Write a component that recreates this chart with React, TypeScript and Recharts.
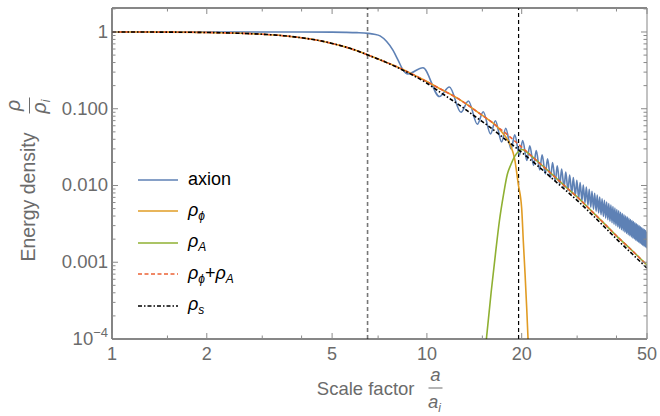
import React from 'react';
import { LineChart, Line, XAxis, YAxis, ReferenceLine, Legend } from 'recharts';

// smooth curves sampled on a common grid of a/a_i
const A_GRID = [1, 1.5, 2, 2.5, 3, 3.5, 4, 4.5, 5, 5.5, 6, 6.5, 7, 7.5, 8, 9, 10, 11, 12, 13, 14, 15, 16, 17, 18, 19, 20, 21, 22, 24, 26, 28, 30, 33, 36, 40, 45, 50];
const RHO_S = [1.0, 0.996, 0.985, 0.965, 0.935, 0.895, 0.84, 0.78, 0.71, 0.64, 0.57, 0.5, 0.445, 0.395, 0.35, 0.275, 0.215, 0.165, 0.13, 0.104, 0.083, 0.068, 0.056, 0.046, 0.038, 0.032, 0.027, 0.0228, 0.0195, 0.0143, 0.0107, 0.0082, 0.0064, 0.0044, 0.0031, 0.00201, 0.00127, 0.00084];
const RHO_SUM = [1.0, 0.996, 0.985, 0.965, 0.935, 0.895, 0.84, 0.78, 0.71, 0.64, 0.57, 0.5, 0.445, 0.396, 0.354, 0.282, 0.226, 0.182, 0.151, 0.124, 0.1, 0.082, 0.068, 0.0555, 0.046, 0.038, 0.0316, 0.0263, 0.0222, 0.0162, 0.012, 0.0091, 0.0071, 0.00484, 0.00341, 0.00221, 0.0014, 0.00092];

const A_PHI = [1, 1.5, 2, 2.5, 3, 3.5, 4, 4.5, 5, 5.5, 6, 6.5, 7, 7.5, 8, 9, 10, 11, 12, 13, 14, 15, 16, 16.5, 17, 17.5, 18, 18.5, 19, 19.5, 20, 20.25, 20.5, 20.75, 21];
const RHO_PHI = [1.0, 0.996, 0.985, 0.965, 0.935, 0.895, 0.84, 0.78, 0.71, 0.64, 0.57, 0.5, 0.445, 0.396, 0.354, 0.282, 0.226, 0.182, 0.151, 0.124, 0.1, 0.082, 0.068, 0.0615, 0.054, 0.047, 0.04, 0.032, 0.022, 0.0105, 0.005, 0.0018, 0.0007, 0.00025, 0.00008];

const A_GAUGE = [15.3, 15.45, 16, 16.5, 17, 17.5, 18, 18.5, 19, 19.5, 20, 20.5, 21, 22, 24, 26, 28, 30, 33, 36, 40, 45, 50];
const RHO_GAUGE = [0.00007, 0.0001, 0.00041, 0.00126, 0.0035, 0.0075, 0.0139, 0.0189, 0.024, 0.0275, 0.0295, 0.0284, 0.0263, 0.0222, 0.0162, 0.012, 0.0091, 0.0071, 0.00484, 0.00341, 0.00221, 0.0014, 0.00092];

// axion: plateau, drop, then peaks / troughs of the oscillation
const A_AXION = [1, 2, 3, 4, 5, 5.5, 6, 6.5, 6.8, 7.1, 7.45, 7.8, 8.1, 8.4, 8.7,
  9.716, 10.964, 11.786, 12.834, 13.543, 14.464, 15.096, 15.928, 16.505, 17.269, 17.802, 18.512, 19.011, 19.677, 20.147,
  20.777, 21.223, 21.822, 22.246, 22.819, 23.225, 23.774, 24.164, 24.692, 25.068, 25.577, 25.94, 26.433, 26.784,
  27.262, 27.603, 28.066, 28.397, 28.848, 29.17, 29.609, 29.923, 30.351, 30.658, 31.076, 31.375, 31.784, 32.077,
  32.476, 32.763, 33.154, 33.435, 33.819, 34.094, 34.47, 34.741, 35.11, 35.375, 35.738, 35.999, 36.355, 36.612,
  36.962, 37.214, 37.559, 37.808, 38.147, 38.391, 38.726, 38.967, 39.296, 39.533, 39.859, 40.092, 40.413, 40.644,
  40.96, 41.187, 41.5, 41.724, 42.032, 42.254, 42.558, 42.777, 43.078, 43.294, 43.591, 43.805, 44.099, 44.31,
  44.6, 44.81, 45.097, 45.303, 45.587, 45.792, 46.073, 46.275, 46.553, 46.754, 47.029, 47.227, 47.5, 47.696,
  47.966, 48.16, 48.427, 48.62, 48.885, 49.076, 49.338, 49.527, 49.787, 50];
const RHO_AXION = [1, 1, 1, 0.999, 0.995, 0.99, 0.98, 0.96, 0.935, 0.89, 0.75, 0.58, 0.43, 0.32, 0.285,
  0.342, 0.1442, 0.1918, 0.0899, 0.1264, 0.0628, 0.0913, 0.047, 0.0698, 0.0369, 0.0557, 0.02995, 0.0457, 0.02494, 0.0384,
  0.02118, 0.03285, 0.01828, 0.02852, 0.01599, 0.02506, 0.01414, 0.02226, 0.01262, 0.01993, 0.01136, 0.01799, 0.01029, 0.01634,
  0.00938, 0.01493, 0.00859, 0.01371, 0.00791, 0.01265, 0.00732, 0.01172, 0.0068, 0.0109, 0.00633, 0.01017, 0.00592, 0.00951,
  0.00555, 0.00893, 0.00521, 0.0084, 0.00491, 0.00792, 0.00464, 0.00749, 0.00439, 0.00709, 0.00416, 0.00673, 0.00395, 0.0064,
  0.00376, 0.00609, 0.00359, 0.00581, 0.00342, 0.00555, 0.00327, 0.00531, 0.00313, 0.00508, 0.003, 0.00487, 0.00288, 0.00468,
  0.00276, 0.00449, 0.00266, 0.00432, 0.00256, 0.00416, 0.00246, 0.00401, 0.00238, 0.00387, 0.00229, 0.00374, 0.00222, 0.00361,
  0.00214, 0.00349, 0.00207, 0.00338, 0.00201, 0.00327, 0.00194, 0.00317, 0.00188, 0.00307, 0.00183, 0.00298, 0.00177, 0.00289,
  0.00172, 0.00281, 0.00167, 0.00273, 0.00163, 0.00266, 0.00158, 0.00258, 0.00154, 0.0025];

const A_MARKS = [6.48, 19.55];

const X_MAJOR = [1, 2, 5, 10, 20, 50];
const X_MINOR = [1.5, 3, 4, 7, 15, 30, 40];
const Y_MAJOR = [0.0001, 0.001, 0.01, 0.1, 1];
const Y_MAJOR_LABELS = ['', '0.001', '0.010', '0.100', '1'];
const Y_MINOR = [0.0002, 0.0003, 0.0004, 0.0005, 0.0006, 0.0007, 0.0008, 0.0009,
  0.002, 0.003, 0.004, 0.005, 0.006, 0.007, 0.008, 0.009,
  0.02, 0.03, 0.04, 0.05, 0.06, 0.07, 0.08, 0.09,
  0.2, 0.3, 0.4, 0.5, 0.6, 0.7, 0.8, 0.9, 2];

const X_TICKS = [...X_MAJOR, ...X_MINOR].sort((p, q) => p - q);
const Y_TICKS = [...Y_MAJOR, ...Y_MINOR].sort((p, q) => p - q);

const zip = (xs: number[], ys: number[]) => xs.map((a, i) => ({ a, v: ys[i] }));

const FONT = '"Liberation Sans", Arial, sans-serif';
const TEXT = '#6b6b6b';
const TICK = '#8a8a8a';

const XTickBottom = ({ x, y, payload }: any) => {
  const major = X_MAJOR.includes(payload.value);
  return (
    <g>
      <line x1={x} x2={x} y1={y} y2={y - (major ? 6 : 3.5)} stroke={TICK} />
      {major && (
        <text x={x} y={y + 21} textAnchor="middle" fill={TEXT} fontSize={18} fontFamily={FONT}>
          {payload.value}
        </text>
      )}
    </g>
  );
};

const XTickTop = ({ x, y, payload }: any) => {
  const major = X_MAJOR.includes(payload.value);
  return <line x1={x} x2={x} y1={y} y2={y + (major ? 6 : 3.5)} stroke={TICK} />;
};

const YTickLeft = ({ x, y, payload }: any) => {
  const idx = Y_MAJOR.indexOf(payload.value);
  const major = idx >= 0;
  return (
    <g>
      <line x1={x} x2={x + (major ? 6 : 3.5)} y1={y} y2={y} stroke={TICK} />
      {major && idx > 0 && (
        <text x={x - 4} y={y + 6} textAnchor="end" fill={TEXT} fontSize={18.5} fontFamily={FONT}>
          {Y_MAJOR_LABELS[idx]}
        </text>
      )}
      {idx === 0 && (
        <text x={x - 4} y={y + 6} textAnchor="end" fill={TEXT} fontSize={18.5} fontFamily={FONT}>
          10
          <tspan dy={-8} fontSize={13}>−4</tspan>
        </text>
      )}
    </g>
  );
};

const YTickRight = ({ x, y, payload }: any) => {
  const major = Y_MAJOR.includes(payload.value);
  return <line x1={x} x2={x - (major ? 6 : 3.5)} y1={y} y2={y} stroke={TICK} />;
};

const XLabel = ({ viewBox }: any) => {
  const cx = viewBox.x + viewBox.width / 2;
  const y0 = viewBox.y;
  return (
    <g fill={TEXT} fontFamily={FONT} fontSize={18.5}>
      <text x={cx + 35} y={y0 + 56} textAnchor="end">Scale factor</text>
      <text x={cx + 56} y={y0 + 42} textAnchor="middle" fontStyle="italic">a</text>
      <line x1={cx + 49} x2={cx + 63} y1={y0 + 49} y2={y0 + 49} stroke={TEXT} strokeWidth={1} />
      <text x={cx + 55} y={y0 + 69} textAnchor="middle" fontStyle="italic">
        a<tspan dy={4} fontSize={12}>i</tspan>
      </text>
    </g>
  );
};

const YLabel = ({ viewBox }: any) => {
  const cy = viewBox.y + viewBox.height / 2;
  return (
    <g transform={`translate(28, ${cy}) rotate(-90)`} fill={TEXT} fontFamily={FONT} fontSize={19.5}>
      <text x={41} y={6.5} textAnchor="end">Energy density</text>
      <text x={68} y={-8} textAnchor="middle" fontStyle="italic">ρ</text>
      <line x1={60} x2={76} y1={1.5} y2={1.5} stroke={TEXT} strokeWidth={1} />
      <text x={67} y={17.5} textAnchor="middle" fontStyle="italic">
        ρ<tspan dy={4} fontSize={12}>i</tspan>
      </text>
    </g>
  );
};

const Sym = ({ base, sub }: { base: string; sub: string }) => (
  <span>
    <i>{base}</i>
    <sub style={{ fontSize: 12, fontStyle: 'italic', verticalAlign: -4 }}>{sub}</sub>
  </span>
);

const LEGEND_ITEMS = [
  { color: '#5E81B5', dash: undefined, label: <span>axion</span> },
  { color: '#E19C24', dash: undefined, label: <Sym base="ρ" sub="ϕ" /> },
  { color: '#8FB032', dash: undefined, label: <Sym base="ρ" sub="A" /> },
  { color: '#EB6235', dash: '4 2.5', label: <span><Sym base="ρ" sub="ϕ" />+<Sym base="ρ" sub="A" /></span> },
  { color: '#000000', dash: '4 2 1.5 2', label: <Sym base="ρ" sub="s" /> },
];

const LegendBox = () => (
  <div style={{ fontFamily: FONT, fontSize: 18, color: '#000' }}>
    {LEGEND_ITEMS.map((it, i) => (
      <div key={i} style={{ display: 'flex', alignItems: 'center', height: 31.5 }}>
        <svg width={40} height={6} style={{ marginRight: 10 }}>
          <line x1={0} x2={40} y1={3} y2={3} stroke={it.color} strokeWidth={1.6} strokeDasharray={it.dash} />
        </svg>
        {it.label}
      </div>
    ))}
  </div>
);

export default function App() {
  return (
    <div style={{ position: 'absolute', left: 0, top: 0, background: '#fff' }}>
      <LineChart width={660} height={416} margin={{ top: 0, right: 0, bottom: 0, left: 0 }}>
        <XAxis dataKey="a" type="number" scale="log" domain={[1, 50]} allowDataOverflow ticks={X_TICKS} interval={0}
          tick={<XTickBottom />} tickLine={false} tickSize={0} tickMargin={0} height={77}
          axisLine={{ stroke: '#111', strokeWidth: 1.2 }} label={<XLabel />} />
        <XAxis xAxisId="top" orientation="top" dataKey="a" type="number" scale="log" domain={[1, 50]} allowDataOverflow
          ticks={X_TICKS} interval={0} tick={<XTickTop />} tickLine={false} tickSize={0} tickMargin={0} height={8}
          axisLine={{ stroke: '#111', strokeWidth: 1.2 }} />
        <YAxis type="number" scale="log" domain={[0.0001, 2.054]} allowDataOverflow ticks={Y_TICKS} interval={0}
          tick={<YTickLeft />} tickLine={false} tickSize={0} tickMargin={0} width={112}
          axisLine={{ stroke: '#333', strokeWidth: 1.2 }} label={<YLabel />} />
        <YAxis yAxisId="right" orientation="right" type="number" scale="log" domain={[0.0001, 2.054]} allowDataOverflow
          ticks={Y_TICKS} interval={0} tick={<YTickRight />} tickLine={false} tickSize={0} tickMargin={0} width={13}
          axisLine={{ stroke: '#999', strokeWidth: 1.2 }} />
        <ReferenceLine x={A_MARKS[0]} stroke="#777" strokeWidth={1.6} strokeDasharray="4 3" />
        <ReferenceLine x={A_MARKS[1]} stroke="#000" strokeWidth={1.2} strokeDasharray="4 3" />
        <Line data={zip(A_AXION, RHO_AXION)} dataKey="v" type="monotone" stroke="#5E81B5" strokeWidth={1.6} dot={false} isAnimationActive={false} />
        <Line data={zip(A_PHI, RHO_PHI)} dataKey="v" type="monotone" stroke="#E19C24" strokeWidth={1.6} dot={false} isAnimationActive={false} />
        <Line data={zip(A_GAUGE, RHO_GAUGE)} dataKey="v" type="monotone" stroke="#8FB032" strokeWidth={1.6} dot={false} isAnimationActive={false} />
        <Line data={zip(A_GRID, RHO_SUM)} dataKey="v" type="monotone" stroke="#EB6235" strokeWidth={1.6} strokeDasharray="4 2.5" dot={false} isAnimationActive={false} />
        <Line data={zip(A_GRID, RHO_S)} dataKey="v" type="monotone" stroke="#000" strokeWidth={1.6} strokeDasharray="4 2 1.5 2" dot={false} isAnimationActive={false} />
        <Legend layout="vertical" align="center" verticalAlign="middle" content={<LegendBox />}
          wrapperStyle={{ left: 138, top: 164, width: 160, height: 160 }} />
      </LineChart>
    </div>
  );
}
